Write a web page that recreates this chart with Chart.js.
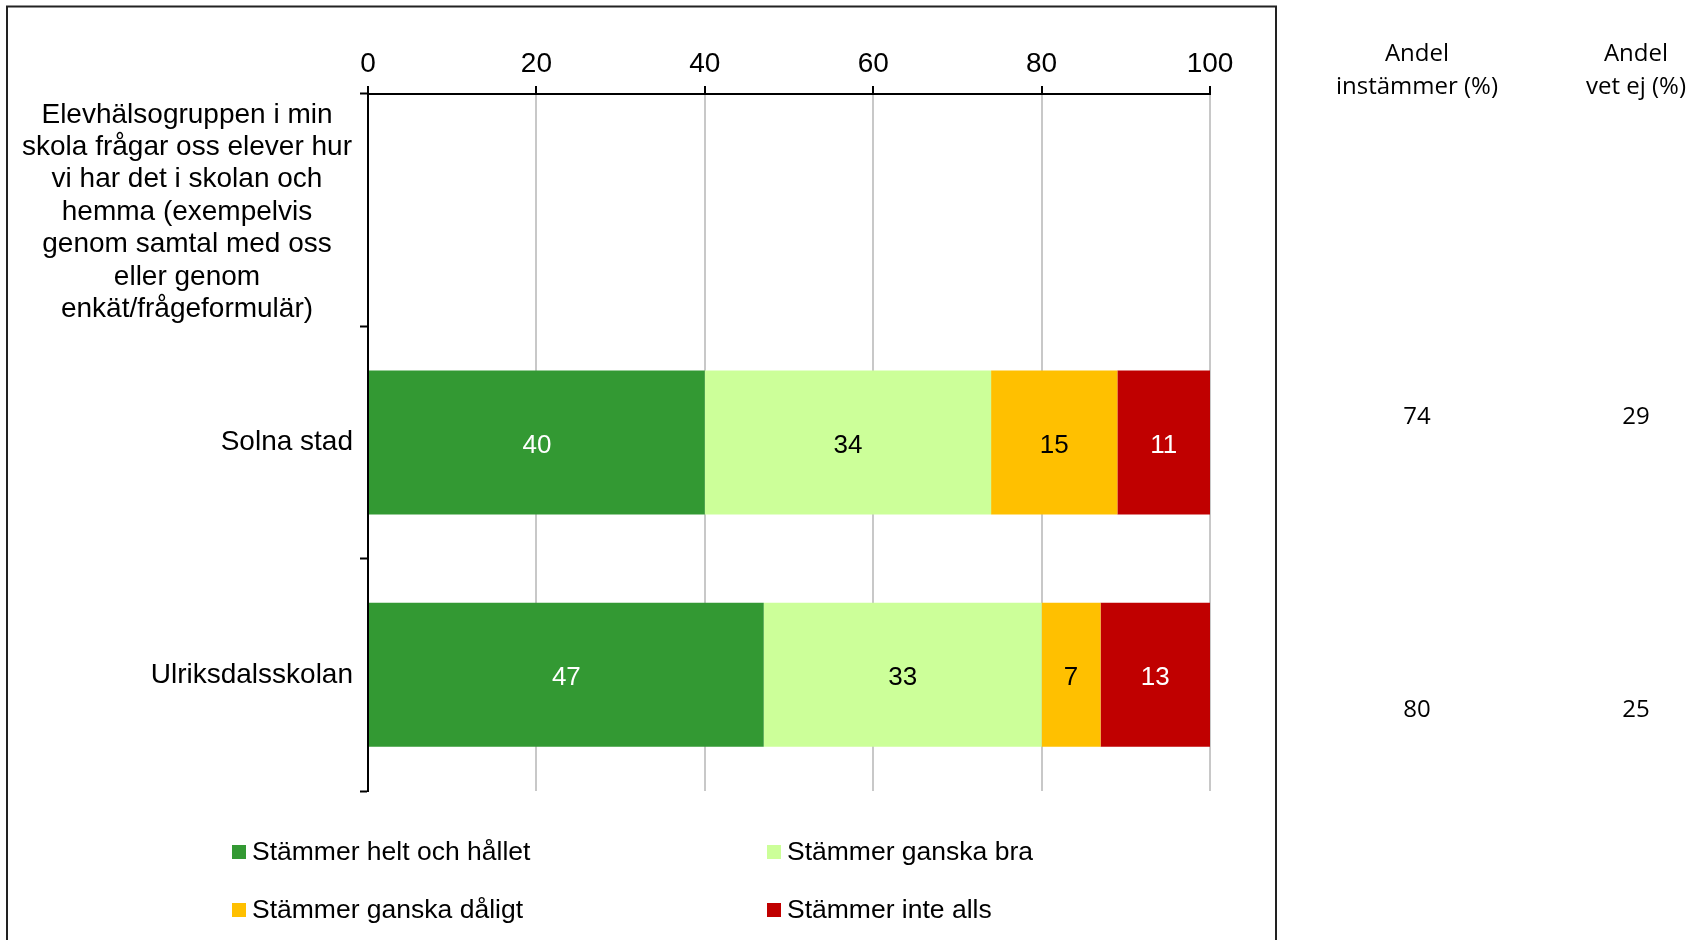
<!DOCTYPE html>
<html>
<head>
<meta charset="utf-8">
<script src="https://cdn.jsdelivr.net/npm/chart.js@4/dist/chart.umd.min.js"></script>
<style>
  html, body { margin: 0; padding: 0; background: #fff; }
  canvas { display: block; }
</style>
</head>
<body>
<canvas id="elevChart" width="1701" height="940"></canvas>
<script>
// data
const questionLines = ['Elevhälsogruppen i min', 'skola frågar oss elever hur', 'vi har det i skolan och',
    'hemma (exempelvis', 'genom samtal med oss', 'eller genom', 'enkät/frågeformulär)'];
const categories = ['question', 'Solna stad', 'Ulriksdalsskolan'];
const seriesNames = ['Stämmer helt och hållet', 'Stämmer ganska bra', 'Stämmer ganska dåligt', 'Stämmer inte alls'];
const helt = [null, 40, 47];
const gBra = [null, 34, 33];
const gDaligt = [null, 15, 7];
const inteAlls = [null, 11, 13];
const xTicks = [0, 20, 40, 60, 80, 100];
const tableHeads = [['Andel', 'instämmer (%)'], ['Andel', 'vet ej (%)']];
const andelInstammer = [74, 80];
const andelVetEj = [29, 25];

const colors = ['#339933', '#CCFF99', '#FFC000', '#C00000'];
const labelColors = ['#ffffff', '#000000', '#000000', '#ffffff'];
const FONT = '"Liberation Sans", Arial, sans-serif';

const framePlugin = {
    id: 'frame',
    beforeDraw(chart) {
        const ctx = chart.ctx;
        ctx.save();
        ctx.strokeStyle = '#222';
        ctx.lineWidth = 2;
        ctx.strokeRect(7, 6.5, 1269, 1000);
        ctx.restore();
    }
};

const extrasPlugin = {
    id: 'extras',
    afterDraw(chart) {
        const ctx = chart.ctx;
        const y = chart.scales.y;
        ctx.save();
        // question label, centred lines
        ctx.fillStyle = '#000';
        ctx.font = '28px ' + FONT;
        ctx.textAlign = 'center';
        ctx.textBaseline = 'middle';
        const qy = y.getPixelForValue(0) + 2;
        const lh = 32.4;
        questionLines.forEach((t, i) => {
            ctx.fillText(t, 187, qy + (i - (questionLines.length - 1) / 2) * lh);
        });

        // values inside bars
        ctx.font = '26px ' + FONT;
        chart.data.datasets.forEach((ds, di) => {
            const meta = chart.getDatasetMeta(di);
            meta.data.forEach((el, i) => {
                const v = ds.data[i];
                if (v == null) return;
                ctx.fillStyle = labelColors[di];
                ctx.fillText(String(v), (el.x + el.base) / 2, el.y + 3);
            });
        });

        // legend
        ctx.font = '26.5px ' + FONT;
        ctx.textAlign = 'left';
        const legPos = [[232, 852], [767, 852], [232, 910], [767, 910]];
        chart.data.datasets.forEach((ds, di) => {
            const [lx, ly] = legPos[di];
            ctx.fillStyle = ds.backgroundColor;
            ctx.fillRect(lx, ly - 7, 14, 14);
            ctx.fillStyle = '#000';
            ctx.fillText(ds.label, lx + 20, ly + 1);
        });

        // side table
        ctx.font = '24px "Open Sans", sans-serif';
        ctx.textAlign = 'center';
        const colX = [1417, 1636];
        tableHeads.forEach((h, c) => {
            ctx.fillText(h[0], colX[c], 54);
            ctx.fillText(h[1], colX[c], 87);
        });
        const rowY = [417, 710];
        andelInstammer.forEach((v, r) => ctx.fillText(String(v), colX[0], rowY[r]));
        andelVetEj.forEach((v, r) => ctx.fillText(String(v), colX[1], rowY[r]));
        ctx.restore();
    }
};

const elevChart = new Chart(document.getElementById('elevChart').getContext('2d'), {
    type: 'bar',
    data: {
        labels: categories,
        datasets: [helt, gBra, gDaligt, inteAlls].map((d, i) => ({
            label: seriesNames[i],
            data: d,
            backgroundColor: colors[i],
            borderWidth: 0,
            categoryPercentage: 1,
            barPercentage: 0.62
        }))
    },
    options: {
        indexAxis: 'y',
        responsive: false,
        devicePixelRatio: 1,
        animation: false,
        layout: { padding: { left: 0, right: 491, top: 0, bottom: 149 } },
        plugins: {
            legend: { display: false },
            tooltip: { enabled: false }
        },
        scales: {
            x: {
                position: 'top',
                stacked: true,
                min: 0,
                max: 100,
                afterBuildTicks(scale) {
                    scale.ticks = xTicks.map(v => ({ value: v }));
                },
                afterFit(scale) { scale.height = 94; },
                grid: { color: '#c8c8c8', lineWidth: 2, tickColor: '#000', tickLength: 8, tickWidth: 2 },
                border: { color: '#000', width: 2 },
                ticks: { color: '#000', padding: 5, font: { family: FONT, size: 28 } }
            },
            y: {
                stacked: true,
                afterFit(scale) { scale.width = 368; },
                grid: { drawOnChartArea: false, tickColor: '#000', tickLength: 8, tickWidth: 2, offset: true },
                border: { color: '#000', width: 2 },
                ticks: {
                    color: '#000',
                    padding: 7,
                    font: { family: FONT, size: 28 },
                    callback(v, i) { return i === 0 ? '' : categories[i]; }
                }
            }
        }
    },
    plugins: [framePlugin, extrasPlugin]
});
</script>
</body>
</html>
